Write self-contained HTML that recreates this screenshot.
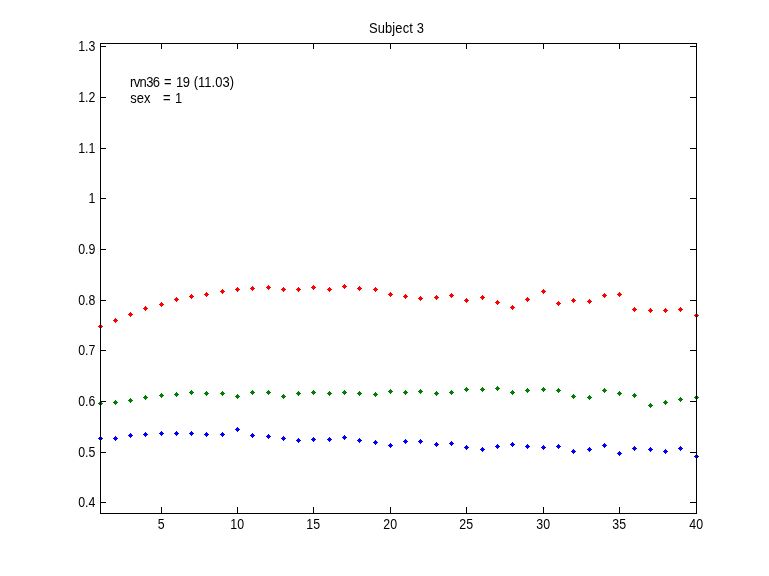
<!DOCTYPE html>
<html lang="en">
<head>
<meta charset="utf-8">
<title>Subject 3</title>
<style>
html,body{margin:0;padding:0;background:#fff;}
body{width:769px;height:576px;overflow:hidden;}
svg{display:block;}
text{font-family:"Liberation Sans",Arial,Helvetica,sans-serif;font-size:14.4px;fill:#000;}
.m rect{shape-rendering:crispEdges;}
.ax rect{shape-rendering:crispEdges;fill:#000;}
</style>
</head>
<body>
<svg width="769" height="576" viewBox="0 0 769 576">
<rect x="0" y="0" width="769" height="576" fill="#fff"/>
<g class="m" id="s-blue" fill="#0000ff">
<rect x="100" y="436" width="1" height="5"/><rect x="99" y="437" width="3" height="3"/><rect x="98" y="438" width="5" height="1"/>
<rect x="115" y="436" width="1" height="5"/><rect x="114" y="437" width="3" height="3"/><rect x="113" y="438" width="5" height="1"/>
<rect x="130" y="433" width="1" height="5"/><rect x="129" y="434" width="3" height="3"/><rect x="128" y="435" width="5" height="1"/>
<rect x="145" y="432" width="1" height="5"/><rect x="144" y="433" width="3" height="3"/><rect x="143" y="434" width="5" height="1"/>
<rect x="161" y="431" width="1" height="5"/><rect x="160" y="432" width="3" height="3"/><rect x="159" y="433" width="5" height="1"/>
<rect x="176" y="431" width="1" height="5"/><rect x="175" y="432" width="3" height="3"/><rect x="174" y="433" width="5" height="1"/>
<rect x="191" y="431" width="1" height="5"/><rect x="190" y="432" width="3" height="3"/><rect x="189" y="433" width="5" height="1"/>
<rect x="206" y="432" width="1" height="5"/><rect x="205" y="433" width="3" height="3"/><rect x="204" y="434" width="5" height="1"/>
<rect x="222" y="432" width="1" height="5"/><rect x="221" y="433" width="3" height="3"/><rect x="220" y="434" width="5" height="1"/>
<rect x="237" y="427" width="1" height="5"/><rect x="236" y="428" width="3" height="3"/><rect x="235" y="429" width="5" height="1"/>
<rect x="252" y="433" width="1" height="5"/><rect x="251" y="434" width="3" height="3"/><rect x="250" y="435" width="5" height="1"/>
<rect x="268" y="434" width="1" height="5"/><rect x="267" y="435" width="3" height="3"/><rect x="266" y="436" width="5" height="1"/>
<rect x="283" y="436" width="1" height="5"/><rect x="282" y="437" width="3" height="3"/><rect x="281" y="438" width="5" height="1"/>
<rect x="298" y="438" width="1" height="5"/><rect x="297" y="439" width="3" height="3"/><rect x="296" y="440" width="5" height="1"/>
<rect x="313" y="437" width="1" height="5"/><rect x="312" y="438" width="3" height="3"/><rect x="311" y="439" width="5" height="1"/>
<rect x="329" y="437" width="1" height="5"/><rect x="328" y="438" width="3" height="3"/><rect x="327" y="439" width="5" height="1"/>
<rect x="344" y="435" width="1" height="5"/><rect x="343" y="436" width="3" height="3"/><rect x="342" y="437" width="5" height="1"/>
<rect x="359" y="438" width="1" height="5"/><rect x="358" y="439" width="3" height="3"/><rect x="357" y="440" width="5" height="1"/>
<rect x="375" y="440" width="1" height="5"/><rect x="374" y="441" width="3" height="3"/><rect x="373" y="442" width="5" height="1"/>
<rect x="390" y="443" width="1" height="5"/><rect x="389" y="444" width="3" height="3"/><rect x="388" y="445" width="5" height="1"/>
<rect x="405" y="439" width="1" height="5"/><rect x="404" y="440" width="3" height="3"/><rect x="403" y="441" width="5" height="1"/>
<rect x="420" y="439" width="1" height="5"/><rect x="419" y="440" width="3" height="3"/><rect x="418" y="441" width="5" height="1"/>
<rect x="436" y="442" width="1" height="5"/><rect x="435" y="443" width="3" height="3"/><rect x="434" y="444" width="5" height="1"/>
<rect x="451" y="441" width="1" height="5"/><rect x="450" y="442" width="3" height="3"/><rect x="449" y="443" width="5" height="1"/>
<rect x="466" y="445" width="1" height="5"/><rect x="465" y="446" width="3" height="3"/><rect x="464" y="447" width="5" height="1"/>
<rect x="482" y="447" width="1" height="5"/><rect x="481" y="448" width="3" height="3"/><rect x="480" y="449" width="5" height="1"/>
<rect x="497" y="444" width="1" height="5"/><rect x="496" y="445" width="3" height="3"/><rect x="495" y="446" width="5" height="1"/>
<rect x="512" y="442" width="1" height="5"/><rect x="511" y="443" width="3" height="3"/><rect x="510" y="444" width="5" height="1"/>
<rect x="527" y="444" width="1" height="5"/><rect x="526" y="445" width="3" height="3"/><rect x="525" y="446" width="5" height="1"/>
<rect x="543" y="445" width="1" height="5"/><rect x="542" y="446" width="3" height="3"/><rect x="541" y="447" width="5" height="1"/>
<rect x="558" y="444" width="1" height="5"/><rect x="557" y="445" width="3" height="3"/><rect x="556" y="446" width="5" height="1"/>
<rect x="573" y="449" width="1" height="5"/><rect x="572" y="450" width="3" height="3"/><rect x="571" y="451" width="5" height="1"/>
<rect x="589" y="447" width="1" height="5"/><rect x="588" y="448" width="3" height="3"/><rect x="587" y="449" width="5" height="1"/>
<rect x="604" y="443" width="1" height="5"/><rect x="603" y="444" width="3" height="3"/><rect x="602" y="445" width="5" height="1"/>
<rect x="619" y="451" width="1" height="5"/><rect x="618" y="452" width="3" height="3"/><rect x="617" y="453" width="5" height="1"/>
<rect x="634" y="446" width="1" height="5"/><rect x="633" y="447" width="3" height="3"/><rect x="632" y="448" width="5" height="1"/>
<rect x="650" y="447" width="1" height="5"/><rect x="649" y="448" width="3" height="3"/><rect x="648" y="449" width="5" height="1"/>
<rect x="665" y="449" width="1" height="5"/><rect x="664" y="450" width="3" height="3"/><rect x="663" y="451" width="5" height="1"/>
<rect x="680" y="446" width="1" height="5"/><rect x="679" y="447" width="3" height="3"/><rect x="678" y="448" width="5" height="1"/>
<rect x="696" y="454" width="1" height="5"/><rect x="695" y="455" width="3" height="3"/><rect x="694" y="456" width="5" height="1"/>
</g>
<g class="m" id="s-green" fill="#007f00">
<rect x="100" y="401" width="1" height="5"/><rect x="99" y="402" width="3" height="3"/><rect x="98" y="403" width="5" height="1"/>
<rect x="115" y="400" width="1" height="5"/><rect x="114" y="401" width="3" height="3"/><rect x="113" y="402" width="5" height="1"/>
<rect x="130" y="398" width="1" height="5"/><rect x="129" y="399" width="3" height="3"/><rect x="128" y="400" width="5" height="1"/>
<rect x="145" y="395" width="1" height="5"/><rect x="144" y="396" width="3" height="3"/><rect x="143" y="397" width="5" height="1"/>
<rect x="161" y="393" width="1" height="5"/><rect x="160" y="394" width="3" height="3"/><rect x="159" y="395" width="5" height="1"/>
<rect x="176" y="392" width="1" height="5"/><rect x="175" y="393" width="3" height="3"/><rect x="174" y="394" width="5" height="1"/>
<rect x="191" y="390" width="1" height="5"/><rect x="190" y="391" width="3" height="3"/><rect x="189" y="392" width="5" height="1"/>
<rect x="206" y="391" width="1" height="5"/><rect x="205" y="392" width="3" height="3"/><rect x="204" y="393" width="5" height="1"/>
<rect x="222" y="391" width="1" height="5"/><rect x="221" y="392" width="3" height="3"/><rect x="220" y="393" width="5" height="1"/>
<rect x="237" y="394" width="1" height="5"/><rect x="236" y="395" width="3" height="3"/><rect x="235" y="396" width="5" height="1"/>
<rect x="252" y="390" width="1" height="5"/><rect x="251" y="391" width="3" height="3"/><rect x="250" y="392" width="5" height="1"/>
<rect x="268" y="390" width="1" height="5"/><rect x="267" y="391" width="3" height="3"/><rect x="266" y="392" width="5" height="1"/>
<rect x="283" y="394" width="1" height="5"/><rect x="282" y="395" width="3" height="3"/><rect x="281" y="396" width="5" height="1"/>
<rect x="298" y="391" width="1" height="5"/><rect x="297" y="392" width="3" height="3"/><rect x="296" y="393" width="5" height="1"/>
<rect x="313" y="390" width="1" height="5"/><rect x="312" y="391" width="3" height="3"/><rect x="311" y="392" width="5" height="1"/>
<rect x="329" y="391" width="1" height="5"/><rect x="328" y="392" width="3" height="3"/><rect x="327" y="393" width="5" height="1"/>
<rect x="344" y="390" width="1" height="5"/><rect x="343" y="391" width="3" height="3"/><rect x="342" y="392" width="5" height="1"/>
<rect x="359" y="391" width="1" height="5"/><rect x="358" y="392" width="3" height="3"/><rect x="357" y="393" width="5" height="1"/>
<rect x="375" y="392" width="1" height="5"/><rect x="374" y="393" width="3" height="3"/><rect x="373" y="394" width="5" height="1"/>
<rect x="390" y="389" width="1" height="5"/><rect x="389" y="390" width="3" height="3"/><rect x="388" y="391" width="5" height="1"/>
<rect x="405" y="390" width="1" height="5"/><rect x="404" y="391" width="3" height="3"/><rect x="403" y="392" width="5" height="1"/>
<rect x="420" y="389" width="1" height="5"/><rect x="419" y="390" width="3" height="3"/><rect x="418" y="391" width="5" height="1"/>
<rect x="436" y="391" width="1" height="5"/><rect x="435" y="392" width="3" height="3"/><rect x="434" y="393" width="5" height="1"/>
<rect x="451" y="390" width="1" height="5"/><rect x="450" y="391" width="3" height="3"/><rect x="449" y="392" width="5" height="1"/>
<rect x="466" y="387" width="1" height="5"/><rect x="465" y="388" width="3" height="3"/><rect x="464" y="389" width="5" height="1"/>
<rect x="482" y="387" width="1" height="5"/><rect x="481" y="388" width="3" height="3"/><rect x="480" y="389" width="5" height="1"/>
<rect x="497" y="386" width="1" height="5"/><rect x="496" y="387" width="3" height="3"/><rect x="495" y="388" width="5" height="1"/>
<rect x="512" y="390" width="1" height="5"/><rect x="511" y="391" width="3" height="3"/><rect x="510" y="392" width="5" height="1"/>
<rect x="527" y="388" width="1" height="5"/><rect x="526" y="389" width="3" height="3"/><rect x="525" y="390" width="5" height="1"/>
<rect x="543" y="387" width="1" height="5"/><rect x="542" y="388" width="3" height="3"/><rect x="541" y="389" width="5" height="1"/>
<rect x="558" y="388" width="1" height="5"/><rect x="557" y="389" width="3" height="3"/><rect x="556" y="390" width="5" height="1"/>
<rect x="573" y="394" width="1" height="5"/><rect x="572" y="395" width="3" height="3"/><rect x="571" y="396" width="5" height="1"/>
<rect x="589" y="395" width="1" height="5"/><rect x="588" y="396" width="3" height="3"/><rect x="587" y="397" width="5" height="1"/>
<rect x="604" y="388" width="1" height="5"/><rect x="603" y="389" width="3" height="3"/><rect x="602" y="390" width="5" height="1"/>
<rect x="619" y="391" width="1" height="5"/><rect x="618" y="392" width="3" height="3"/><rect x="617" y="393" width="5" height="1"/>
<rect x="634" y="393" width="1" height="5"/><rect x="633" y="394" width="3" height="3"/><rect x="632" y="395" width="5" height="1"/>
<rect x="650" y="403" width="1" height="5"/><rect x="649" y="404" width="3" height="3"/><rect x="648" y="405" width="5" height="1"/>
<rect x="665" y="400" width="1" height="5"/><rect x="664" y="401" width="3" height="3"/><rect x="663" y="402" width="5" height="1"/>
<rect x="680" y="397" width="1" height="5"/><rect x="679" y="398" width="3" height="3"/><rect x="678" y="399" width="5" height="1"/>
<rect x="696" y="395" width="1" height="5"/><rect x="695" y="396" width="3" height="3"/><rect x="694" y="397" width="5" height="1"/>
</g>
<g class="m" id="s-red" fill="#ff0000">
<rect x="100" y="324" width="1" height="5"/><rect x="99" y="325" width="3" height="3"/><rect x="98" y="326" width="5" height="1"/>
<rect x="115" y="318" width="1" height="5"/><rect x="114" y="319" width="3" height="3"/><rect x="113" y="320" width="5" height="1"/>
<rect x="130" y="312" width="1" height="5"/><rect x="129" y="313" width="3" height="3"/><rect x="128" y="314" width="5" height="1"/>
<rect x="145" y="306" width="1" height="5"/><rect x="144" y="307" width="3" height="3"/><rect x="143" y="308" width="5" height="1"/>
<rect x="161" y="302" width="1" height="5"/><rect x="160" y="303" width="3" height="3"/><rect x="159" y="304" width="5" height="1"/>
<rect x="176" y="297" width="1" height="5"/><rect x="175" y="298" width="3" height="3"/><rect x="174" y="299" width="5" height="1"/>
<rect x="191" y="294" width="1" height="5"/><rect x="190" y="295" width="3" height="3"/><rect x="189" y="296" width="5" height="1"/>
<rect x="206" y="292" width="1" height="5"/><rect x="205" y="293" width="3" height="3"/><rect x="204" y="294" width="5" height="1"/>
<rect x="222" y="289" width="1" height="5"/><rect x="221" y="290" width="3" height="3"/><rect x="220" y="291" width="5" height="1"/>
<rect x="237" y="287" width="1" height="5"/><rect x="236" y="288" width="3" height="3"/><rect x="235" y="289" width="5" height="1"/>
<rect x="252" y="286" width="1" height="5"/><rect x="251" y="287" width="3" height="3"/><rect x="250" y="288" width="5" height="1"/>
<rect x="268" y="285" width="1" height="5"/><rect x="267" y="286" width="3" height="3"/><rect x="266" y="287" width="5" height="1"/>
<rect x="283" y="287" width="1" height="5"/><rect x="282" y="288" width="3" height="3"/><rect x="281" y="289" width="5" height="1"/>
<rect x="298" y="287" width="1" height="5"/><rect x="297" y="288" width="3" height="3"/><rect x="296" y="289" width="5" height="1"/>
<rect x="313" y="285" width="1" height="5"/><rect x="312" y="286" width="3" height="3"/><rect x="311" y="287" width="5" height="1"/>
<rect x="329" y="287" width="1" height="5"/><rect x="328" y="288" width="3" height="3"/><rect x="327" y="289" width="5" height="1"/>
<rect x="344" y="284" width="1" height="5"/><rect x="343" y="285" width="3" height="3"/><rect x="342" y="286" width="5" height="1"/>
<rect x="359" y="286" width="1" height="5"/><rect x="358" y="287" width="3" height="3"/><rect x="357" y="288" width="5" height="1"/>
<rect x="375" y="287" width="1" height="5"/><rect x="374" y="288" width="3" height="3"/><rect x="373" y="289" width="5" height="1"/>
<rect x="390" y="292" width="1" height="5"/><rect x="389" y="293" width="3" height="3"/><rect x="388" y="294" width="5" height="1"/>
<rect x="405" y="294" width="1" height="5"/><rect x="404" y="295" width="3" height="3"/><rect x="403" y="296" width="5" height="1"/>
<rect x="420" y="296" width="1" height="5"/><rect x="419" y="297" width="3" height="3"/><rect x="418" y="298" width="5" height="1"/>
<rect x="436" y="295" width="1" height="5"/><rect x="435" y="296" width="3" height="3"/><rect x="434" y="297" width="5" height="1"/>
<rect x="451" y="293" width="1" height="5"/><rect x="450" y="294" width="3" height="3"/><rect x="449" y="295" width="5" height="1"/>
<rect x="466" y="298" width="1" height="5"/><rect x="465" y="299" width="3" height="3"/><rect x="464" y="300" width="5" height="1"/>
<rect x="482" y="295" width="1" height="5"/><rect x="481" y="296" width="3" height="3"/><rect x="480" y="297" width="5" height="1"/>
<rect x="497" y="300" width="1" height="5"/><rect x="496" y="301" width="3" height="3"/><rect x="495" y="302" width="5" height="1"/>
<rect x="512" y="305" width="1" height="5"/><rect x="511" y="306" width="3" height="3"/><rect x="510" y="307" width="5" height="1"/>
<rect x="527" y="297" width="1" height="5"/><rect x="526" y="298" width="3" height="3"/><rect x="525" y="299" width="5" height="1"/>
<rect x="543" y="289" width="1" height="5"/><rect x="542" y="290" width="3" height="3"/><rect x="541" y="291" width="5" height="1"/>
<rect x="558" y="301" width="1" height="5"/><rect x="557" y="302" width="3" height="3"/><rect x="556" y="303" width="5" height="1"/>
<rect x="573" y="298" width="1" height="5"/><rect x="572" y="299" width="3" height="3"/><rect x="571" y="300" width="5" height="1"/>
<rect x="589" y="299" width="1" height="5"/><rect x="588" y="300" width="3" height="3"/><rect x="587" y="301" width="5" height="1"/>
<rect x="604" y="293" width="1" height="5"/><rect x="603" y="294" width="3" height="3"/><rect x="602" y="295" width="5" height="1"/>
<rect x="619" y="292" width="1" height="5"/><rect x="618" y="293" width="3" height="3"/><rect x="617" y="294" width="5" height="1"/>
<rect x="634" y="307" width="1" height="5"/><rect x="633" y="308" width="3" height="3"/><rect x="632" y="309" width="5" height="1"/>
<rect x="650" y="308" width="1" height="5"/><rect x="649" y="309" width="3" height="3"/><rect x="648" y="310" width="5" height="1"/>
<rect x="665" y="308" width="1" height="5"/><rect x="664" y="309" width="3" height="3"/><rect x="663" y="310" width="5" height="1"/>
<rect x="680" y="307" width="1" height="5"/><rect x="679" y="308" width="3" height="3"/><rect x="678" y="309" width="5" height="1"/>
<rect x="696" y="313" width="1" height="5"/><rect x="695" y="314" width="3" height="3"/><rect x="694" y="315" width="5" height="1"/>
</g>
<g class="ax">
<rect x="100" y="43" width="597" height="1"/>
<rect x="100" y="513" width="597" height="1"/>
<rect x="100" y="43" width="1" height="471"/>
<rect x="696" y="43" width="1" height="471"/>
<rect x="101" y="46" width="5" height="1"/><rect x="690" y="46" width="6" height="1"/>
<rect x="101" y="97" width="5" height="1"/><rect x="690" y="97" width="6" height="1"/>
<rect x="101" y="148" width="5" height="1"/><rect x="690" y="148" width="6" height="1"/>
<rect x="101" y="198" width="5" height="1"/><rect x="690" y="198" width="6" height="1"/>
<rect x="101" y="249" width="5" height="1"/><rect x="690" y="249" width="6" height="1"/>
<rect x="101" y="300" width="5" height="1"/><rect x="690" y="300" width="6" height="1"/>
<rect x="101" y="350" width="5" height="1"/><rect x="690" y="350" width="6" height="1"/>
<rect x="101" y="401" width="5" height="1"/><rect x="690" y="401" width="6" height="1"/>
<rect x="101" y="452" width="5" height="1"/><rect x="690" y="452" width="6" height="1"/>
<rect x="101" y="502" width="5" height="1"/><rect x="690" y="502" width="6" height="1"/>
<rect x="161" y="507" width="1" height="6"/><rect x="161" y="44" width="1" height="5"/>
<rect x="237" y="507" width="1" height="6"/><rect x="237" y="44" width="1" height="5"/>
<rect x="313" y="507" width="1" height="6"/><rect x="313" y="44" width="1" height="5"/>
<rect x="390" y="507" width="1" height="6"/><rect x="390" y="44" width="1" height="5"/>
<rect x="466" y="507" width="1" height="6"/><rect x="466" y="44" width="1" height="5"/>
<rect x="543" y="507" width="1" height="6"/><rect x="543" y="44" width="1" height="5"/>
<rect x="619" y="507" width="1" height="6"/><rect x="619" y="44" width="1" height="5"/>
</g>
<g id="ylabels" text-anchor="end">
<text transform="translate(95.4,51) scale(0.86,1)">1.3</text>
<text transform="translate(95.4,102) scale(0.86,1)">1.2</text>
<text transform="translate(95.4,153) scale(0.86,1)">1.1</text>
<text transform="translate(95.4,203) scale(0.86,1)">1</text>
<text transform="translate(95.4,254) scale(0.86,1)">0.9</text>
<text transform="translate(95.4,305) scale(0.86,1)">0.8</text>
<text transform="translate(95.4,355) scale(0.86,1)">0.7</text>
<text transform="translate(95.4,406) scale(0.86,1)">0.6</text>
<text transform="translate(95.4,457) scale(0.86,1)">0.5</text>
<text transform="translate(95.4,507) scale(0.86,1)">0.4</text>
</g>
<g id="xlabels" text-anchor="middle">
<text transform="translate(161.2,529) scale(0.86,1)">5</text>
<text transform="translate(237.2,529) scale(0.86,1)">10</text>
<text transform="translate(313.2,529) scale(0.86,1)">15</text>
<text transform="translate(390.2,529) scale(0.86,1)">20</text>
<text transform="translate(466.2,529) scale(0.86,1)">25</text>
<text transform="translate(543.2,529) scale(0.86,1)">30</text>
<text transform="translate(619.2,529) scale(0.86,1)">35</text>
<text transform="translate(696.2,529) scale(0.86,1)">40</text>
</g>
<text id="title" transform="translate(369.0,33) scale(0.9,1)" style="letter-spacing:0.12px">Subject 3</text>
<g transform="translate(130,87) scale(0.9,1)"><text id="a1" xml:space="preserve"><tspan x="-0.06" style="letter-spacing:-0.653px">rvn36 </tspan><tspan x="37.67" style="letter-spacing:0px">= </tspan><tspan x="50.99" style="letter-spacing:-0.396px">19 </tspan><tspan x="70.73" style="letter-spacing:0.073px">(11.03)</tspan></text>
</g>
<g transform="translate(130,103) scale(0.9,1)"><text id="a2" xml:space="preserve"><tspan x="0.29" style="letter-spacing:0.057px">sex   </tspan><tspan x="36.56" style="letter-spacing:0px">= </tspan><tspan x="50.00" style="letter-spacing:0px">1</tspan></text>
</g>
</svg>
</body>
</html>
